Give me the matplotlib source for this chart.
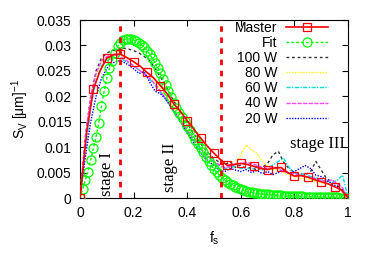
import numpy as np
import matplotlib
matplotlib.use('Agg')
import matplotlib.pyplot as plt

plt.rcParams['font.family'] = ['Liberation Sans', 'DejaVu Sans']
plt.rcParams['mathtext.fontset'] = 'custom'
plt.rcParams['mathtext.rm'] = 'Liberation Sans'
plt.rcParams['mathtext.it'] = 'Liberation Sans:italic'

### data

# master curve, every 0.025 in f_s
f_master = np.linspace(0, 1, 41)
s_master = [0, 0.013, 0.0214, 0.025, 0.0275, 0.0282, 0.0283, 0.0276, 0.0268, 0.0259,
            0.0247, 0.0236, 0.0221, 0.0205, 0.0185, 0.017, 0.0152, 0.0135, 0.0118, 0.0102,
            0.0088, 0.0075, 0.0064, 0.0066, 0.0068, 0.0066, 0.0062, 0.0058, 0.0056, 0.0059,
            0.006, 0.005, 0.0043, 0.0044, 0.0041, 0.0036, 0.0032, 0.0028, 0.0022, 0.0016, 0]

# fit, every 0.01
f_fit = np.linspace(0, 1, 101)
s_fit = [0, 0.0018, 0.0035, 0.0052, 0.0075, 0.0098, 0.012, 0.0148, 0.018, 0.021,
         0.0235, 0.0255, 0.027, 0.0285, 0.0298, 0.0305, 0.031, 0.0312, 0.0313, 0.0313,
         0.0311, 0.0308, 0.0305, 0.0301, 0.0297, 0.029, 0.0283, 0.0275, 0.0265, 0.0256,
         0.0245, 0.0234, 0.0222, 0.021, 0.0198, 0.0187, 0.0177, 0.0168, 0.016, 0.0151,
         0.0142, 0.0133, 0.0124, 0.0115, 0.0107, 0.0098, 0.009, 0.0081, 0.0072, 0.0064,
         0.0057, 0.0051, 0.0045, 0.004, 0.0035, 0.0031, 0.0028, 0.0025, 0.0022, 0.0019,
         0.0017, 0.0015, 0.0013, 0.0012, 0.0011, 0.001, 0.0009, 0.0008, 0.0008, 0.0007,
         0.0007, 0.0006, 0.0006, 0.0005, 0.0005, 0.0005, 0.0004, 0.0004, 0.0004, 0.0004,
         0.0003, 0.0003, 0.0003, 0.0003, 0.0002, 0.0002, 0.0002, 0.0002, 0.0002, 0.0002,
         0.0001, 0.0001, 0.0001, 0.0001, 0.0001, 0.0001, 0.0001, 0.00005, 0.00005, 0.00005, 0]

# laser power runs, every 0.02
f_runs = np.linspace(0, 1, 51)
s_100 = [0, 0.012, 0.02, 0.025, 0.0275, 0.0285, 0.029, 0.0292, 0.0295, 0.0293,
         0.029, 0.0285, 0.0278, 0.027, 0.0255, 0.0238, 0.022, 0.02, 0.0182, 0.0165,
         0.0148, 0.013, 0.0115, 0.01, 0.0088, 0.0078, 0.007, 0.0065, 0.0072, 0.006,
         0.0065, 0.0058, 0.006, 0.0055, 0.006, 0.0068, 0.0085, 0.0092, 0.007, 0.0058,
         0.005, 0.0048, 0.0045, 0.0052, 0.0072, 0.0055, 0.0038, 0.0032, 0.0025, 0.0015, 0]
s_80 = [0, 0.01, 0.019, 0.024, 0.0265, 0.0275, 0.028, 0.0282, 0.028, 0.0275,
        0.0268, 0.026, 0.0252, 0.0242, 0.023, 0.0215, 0.02, 0.0185, 0.0168, 0.0152,
        0.0135, 0.012, 0.0106, 0.0093, 0.0082, 0.0072, 0.0065, 0.006, 0.0058, 0.0065,
        0.0085, 0.0104, 0.0095, 0.0088, 0.0072, 0.0062, 0.0055, 0.0058, 0.005, 0.0046,
        0.0042, 0.0038, 0.004, 0.0035, 0.0032, 0.003, 0.0028, 0.0025, 0.002, 0.0012, 0]
s_60 = [0, 0.009, 0.018, 0.023, 0.026, 0.027, 0.0275, 0.0276, 0.0272, 0.0266,
        0.026, 0.0252, 0.0244, 0.0234, 0.0222, 0.0208, 0.0193, 0.0178, 0.0162, 0.0146,
        0.013, 0.0116, 0.0102, 0.009, 0.008, 0.007, 0.0062, 0.0058, 0.006, 0.0062,
        0.0058, 0.006, 0.0056, 0.0062, 0.0055, 0.0058, 0.0065, 0.0072, 0.0078, 0.006,
        0.005, 0.0045, 0.0048, 0.0042, 0.004, 0.0036, 0.0033, 0.003, 0.0035, 0.0045, 0]
s_40 = [0, 0.012, 0.02, 0.0245, 0.027, 0.0278, 0.0282, 0.028, 0.0275, 0.0268,
        0.026, 0.0252, 0.0244, 0.0235, 0.0224, 0.021, 0.0195, 0.018, 0.0164, 0.0148,
        0.0133, 0.0118, 0.0104, 0.0092, 0.0081, 0.0072, 0.0065, 0.006, 0.0062, 0.0066,
        0.0068, 0.007, 0.0068, 0.0064, 0.006, 0.0058, 0.0062, 0.0057, 0.0052, 0.005,
        0.0048, 0.0045, 0.0043, 0.004, 0.0038, 0.0035, 0.0032, 0.0036, 0.0028, 0.002, 0]
s_20 = [0, 0.008, 0.015, 0.02, 0.0235, 0.0255, 0.0265, 0.027, 0.0268, 0.0262,
        0.0254, 0.0245, 0.0248, 0.0228, 0.021, 0.0205, 0.0195, 0.0178, 0.0162, 0.0145,
        0.0128, 0.0112, 0.0095, 0.0082, 0.0072, 0.0064, 0.0055, 0.0052, 0.0058, 0.0055,
        0.0052, 0.0056, 0.005, 0.0054, 0.0048, 0.0052, 0.0046, 0.005, 0.0055, 0.0048,
        0.0052, 0.0058, 0.0064, 0.0058, 0.0045, 0.0042, 0.0035, 0.0028, 0.0022, 0.0015, 0]

stage_edges = [0.15, 0.525]


### plotting

fig = plt.figure(figsize=(3.76, 2.64), dpi=100)
ax = fig.add_axes([80/376, 66/264, 268/376, 178/264])

ax.plot(f_master, s_master, '-', color='red', lw=1.2, marker='s', ms=6,
        mfc='none', mew=0.9, markevery=2, label='Master', zorder=5)
ax.plot(f_fit, s_fit, color='#00ff00', lw=1.0, ls=(0, (2, 1.5)), marker='o', ms=6.5,
        mfc='none', mew=0.9, label='Fit', zorder=4)
ax.plot(f_runs, s_100, color='#333333', lw=1.0, ls=(0, (2, 2)), label='100 W')
ax.plot(f_runs, s_80, color='#ffff00', lw=1.0, ls=(0, (1, 1)), label='80 W')
ax.plot(f_runs, s_60, color='#00e0e0', lw=1.0, ls=(0, (3, 1, 1, 1)), label='60 W')
ax.plot(f_runs, s_40, color='#ff40ff', lw=1.0, ls=(0, (3, 1)), label='40 W')
ax.plot(f_runs, s_20, color='#0000ff', lw=1.0, ls=(0, (1, 1)), label='20 W')

for fe in stage_edges:
    ax.axvline(fe, color='red', lw=2, ls=(0, (2, 2)), zorder=6)

ax.text(0.1, 0.0003, 'stage I', rotation=90, ha='center', va='bottom',
        family='Liberation Serif', fontsize=12)
ax.text(0.336, 0.0012, 'stage II', rotation=90, ha='center', va='bottom',
        family='Liberation Serif', fontsize=12)
ax.text(0.99, 0.0098, 'stage III', ha='right', va='baseline',
        family='Liberation Serif', fontsize=12)

ax.set_xlim(0, 1)
ax.set_ylim(0, 0.035)
ax.set_xticks([0, 0.2, 0.4, 0.6, 0.8, 1])
ax.set_xticklabels(['0', '0.2', '0.4', '0.6', '0.8', '1'])
ax.set_yticks(np.arange(0, 0.0351, 0.005))
ax.set_yticklabels(['0', '0.005', '0.01', '0.015', '0.02', '0.025', '0.03', '0.035'])
ax.tick_params(direction='in', top=True, right=True, labelsize=10, length=4, pad=6)

ax.set_xlabel(r'f$_\mathrm{s}$', fontsize=10, labelpad=7)
ax.set_ylabel(r'S$_\mathrm{V}$ [μm]$^{-1}$', fontsize=10)

ax.legend(loc='upper right', bbox_to_anchor=(0.925, 0.995), frameon=False,
          markerfirst=False, fontsize=10, handlelength=3, handletextpad=0.65,
          labelspacing=0.08, borderpad=0, borderaxespad=0)

fig.savefig('out.png', dpi=100)
